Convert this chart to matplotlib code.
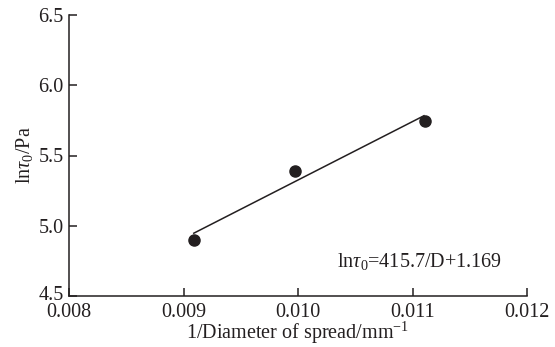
import matplotlib
matplotlib.use('Agg')
import matplotlib.pyplot as plt
import matplotlib.transforms as mtransforms

# data
inv_diameter = [0.00909, 0.00997, 0.01111]
ln_tau = [4.90, 5.39, 5.745]
fit_x = [0.00909, 0.01110]
fit_y = [4.947, 5.783]
xticks = [0.008, 0.009, 0.010, 0.011, 0.012]
yticks = [4.5, 5.0, 5.5, 6.0, 6.5]

plt.rcParams['font.family'] = 'Liberation Serif'
plt.rcParams['mathtext.fontset'] = 'custom'
plt.rcParams['mathtext.rm'] = 'Liberation Serif'
plt.rcParams['mathtext.it'] = 'Liberation Serif:italic'

ink = '#231f20'
fs = 14.5
fig = plt.figure(figsize=(5.55, 3.47), dpi=100)
ax = fig.add_axes([69/555, 1 - 296/347, (527-69)/555, (296-15)/347])

ax.plot(fit_x, fit_y, color=ink, lw=1.1)
ax.plot(inv_diameter, ln_tau, 'o', color=ink, ms=8)

ax.set_xlim(0.008, 0.012)
ax.set_ylim(4.5, 6.5)
ax.set_xticks(xticks)
ax.set_xticklabels(['%.3f' % v for v in xticks])
ax.set_yticks(yticks)
ax.set_yticklabels(['%.1f' % v for v in yticks])
ax.tick_params(direction='in', length=6, width=1.1, labelsize=fs, colors=ink)
ax.tick_params(axis='x', pad=5)
ax.tick_params(axis='y', pad=4)
# lowest y label sits a touch high in the original
lab = ax.get_yticklabels()[0]
lab.set_transform(lab.get_transform() + mtransforms.ScaledTranslation(0, 3/100, fig.dpi_scale_trans))

for s in ['top', 'right']:
    ax.spines[s].set_visible(False)
for s in ['left', 'bottom']:
    ax.spines[s].set_linewidth(1.1)
    ax.spines[s].set_color(ink)

# x label placed by hand, the gap under the tick labels is tight
fig.text(298/555, 1 - 339/347, r'1/Diameter of spread/mm$^{-1}$', fontsize=fs, color=ink,
         ha='center', va='baseline')
ax.set_ylabel(r'ln$\it{\tau_0}$/Pa', fontsize=fs, color=ink, labelpad=2)
ax.text(0.01034, 4.707, r'ln$\it{\tau}$$_0$=415.7/D+1.169', fontsize=fs, color=ink, va='baseline')

fig.savefig('out.png', dpi=100)
